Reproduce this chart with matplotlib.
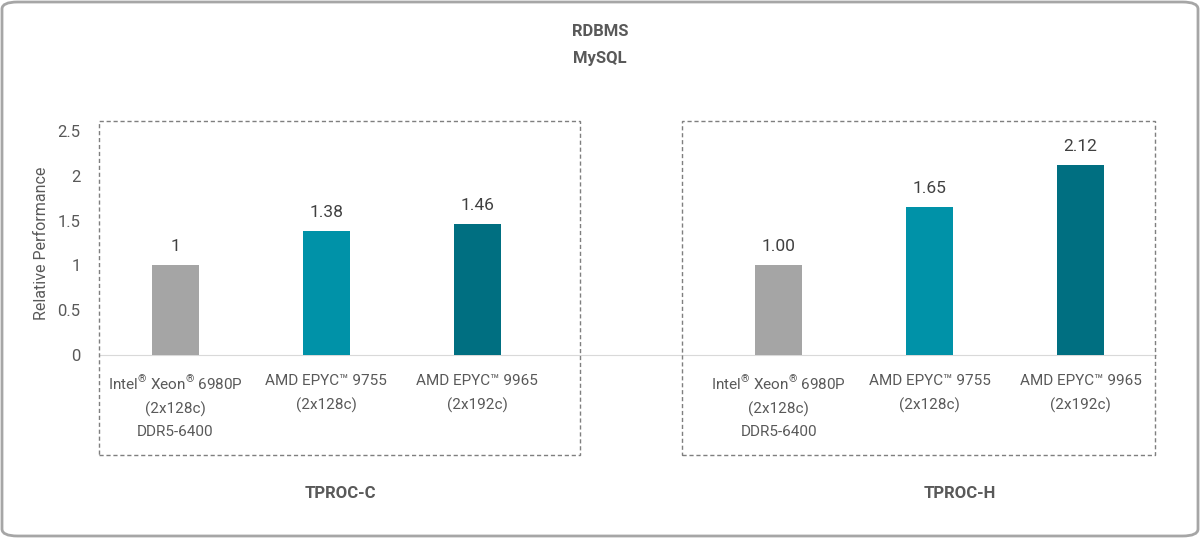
import matplotlib
matplotlib.use("Agg")
import matplotlib.pyplot as plt
from matplotlib.patches import Rectangle, FancyBboxPatch

# chart data
reg = "$^{\\mathrm{\u00ae}}$"
categories = [
    "Intel" + reg + " Xeon" + reg + " 6980P\n(2x128c)\nDDR5-6400",
    "AMD EPYC\u2122 9755\n(2x128c)",
    "AMD EPYC\u2122 9965\n(2x192c)",
    "",
    "Intel" + reg + " Xeon" + reg + " 6980P\n(2x128c)\nDDR5-6400",
    "AMD EPYC\u2122 9755\n(2x128c)",
    "AMD EPYC\u2122 9965\n(2x192c)",
]
values = [1.0, 1.38, 1.46, None, 1.00, 1.65, 2.12]
value_labels = ["1", "1.38", "1.46", "", "1.00", "1.65", "2.12"]
bar_colors = ["#a5a5a5", "#0092a8", "#006f81", "none", "#a5a5a5", "#0092a8", "#006f81"]
groups = ["TPROC-C", "TPROC-H"]
title_lines = ["RDBMS", "MySQL"]
y_ticks = [0, 0.5, 1, 1.5, 2, 2.5]

plt.rcParams['font.family'] = ['Roboto', 'DejaVu Sans']
plt.rcParams['mathtext.fontset'] = 'custom'
plt.rcParams['mathtext.rm'] = 'Roboto'
txt = "#595959"

W, H = 1200, 538
fig = plt.figure(figsize=(W / 100, H / 100), dpi=100)

# axes placed in pixel terms
x0, x1, y0, y1 = 100, 1156, 355, 131
ax = fig.add_axes([x0 / W, 1 - y0 / H, (x1 - x0) / W, (y0 - y1) / H])

xs = list(range(len(categories)))
for x, v, c in zip(xs, values, bar_colors):
    if v is None:
        continue
    ax.bar(x, v, width=0.31, color=c, zorder=3)
for x, v, lab in zip(xs, values, value_labels):
    if v is None:
        continue
    ax.annotate(lab, (x, v), xytext=(0, 8), textcoords="offset points",
                ha="center", va="bottom", fontsize=12.5, color="#404040")

ax.set_xlim(-0.5, len(categories) - 0.5)
ax.set_ylim(0, 2.5)
ax.set_yticks(y_ticks)
ax.set_yticklabels(["0", "0.5", "1", "1.5", "2", "2.5"])
ax.set_xticks(xs)
ax.set_xticklabels(categories, linespacing=1.75)
ax.tick_params(axis="both", length=0, labelsize=11, colors=txt)
ax.tick_params(axis="y", pad=14, labelsize=12)
ax.tick_params(axis="x", pad=14)
for s in ["top", "right", "left"]:
    ax.spines[s].set_visible(False)
ax.spines["bottom"].set_color("#d9d9d9")
ax.set_ylabel("Relative Performance", fontsize=11.5, color=txt, labelpad=6)

# dashed group boxes (pixel positions -> figure fraction)
for bx0, bx1 in [(99, 580), (682, 1155)]:
    fig.patches.append(Rectangle((bx0 / W, 1 - 455 / H), (bx1 - bx0) / W, (455 - 121) / H,
                                 transform=fig.transFigure, fill=False,
                                 edgecolor="#7f7f7f", linestyle=(0, (3, 2)), linewidth=1))

fig.text(340 / W, 1 - 494 / H, groups[0], ha="center", va="center",
         fontsize=12, fontweight="bold", color=txt)
fig.text(960 / W, 1 - 494 / H, groups[1], ha="center", va="center",
         fontsize=12, fontweight="bold", color=txt)
fig.text(600 / W, 1 - 32 / H, title_lines[0], ha="center", va="center",
         fontsize=12, fontweight="bold", color=txt)
fig.text(600 / W, 1 - 58 / H, title_lines[1], ha="center", va="center",
         fontsize=12, fontweight="bold", color=txt)

# rounded outer border
fig.patches.append(FancyBboxPatch((2 / W, 2 / H), (W - 4) / W, (H - 4) / H,
                                  boxstyle="round,pad=0,rounding_size=0.013",
                                  transform=fig.transFigure, fill=False,
                                  edgecolor="#a6a6a6", linewidth=2))

fig.savefig("out.png", dpi=100)
